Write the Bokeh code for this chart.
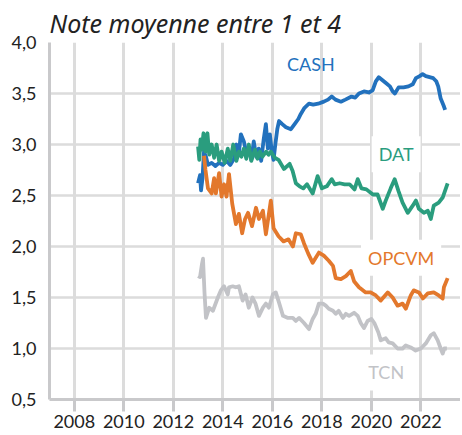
from bokeh.plotting import figure
from bokeh.models import Range1d, FixedTicker, CustomJSTickFormatter, Label, Title
from bokeh.embed import file_html
from bokeh.resources import INLINE

# ---- data (decimal year, average score) ----
cash_t = [2013.00, 2013.08, 2013.12, 2013.18, 2013.24, 2013.32, 2013.40, 2013.55, 2013.70, 2013.85,
          2014.00, 2014.15, 2014.30, 2014.45, 2014.55, 2014.65, 2014.73, 2014.85, 2014.95, 2015.05,
          2015.15, 2015.25, 2015.35, 2015.45, 2015.55, 2015.65, 2015.74, 2015.82, 2015.90, 2015.98,
          2016.05, 2016.12, 2016.20, 2016.27, 2016.40, 2016.55, 2016.75, 2016.90, 2017.05, 2017.15,
          2017.30, 2017.48, 2017.65, 2017.85, 2018.08, 2018.25, 2018.40, 2018.55, 2018.77, 2018.95,
          2019.20, 2019.35, 2019.50, 2019.70, 2019.90, 2020.05, 2020.18, 2020.30, 2020.45, 2020.60,
          2020.75, 2020.86, 2020.95, 2021.10, 2021.30, 2021.50, 2021.67, 2021.80, 2021.95, 2022.07,
          2022.20, 2022.35, 2022.50, 2022.62, 2022.70, 2022.80, 2022.92, 2022.98]
cash_v = [2.62, 2.70, 2.55, 2.67, 2.93, 2.88, 2.80, 2.82, 2.79, 2.82,
          2.80, 2.84, 2.80, 2.86, 3.00, 2.92, 3.10, 3.03, 2.92, 2.96,
          2.85, 3.03, 2.88, 2.96, 2.84, 3.05, 3.20, 2.96, 3.10, 2.93,
          2.85, 3.00, 3.15, 3.23, 3.20, 3.17, 3.15, 3.20, 3.25, 3.30,
          3.36, 3.40, 3.39, 3.40, 3.42, 3.44, 3.47, 3.44, 3.42, 3.44,
          3.47, 3.46, 3.50, 3.52, 3.51, 3.53, 3.62, 3.66, 3.63, 3.60,
          3.57, 3.52, 3.50, 3.56, 3.56, 3.57, 3.59, 3.65, 3.67, 3.69,
          3.67, 3.66, 3.65, 3.62, 3.57, 3.45, 3.38, 3.34]

dat_t = [2013.00, 2013.05, 2013.10, 2013.15, 2013.22, 2013.30, 2013.38, 2013.45, 2013.55, 2013.65,
         2013.75, 2013.85, 2013.95, 2014.08, 2014.20, 2014.30, 2014.42, 2014.55, 2014.65, 2014.75,
         2014.85, 2014.95, 2015.05, 2015.15, 2015.30, 2015.40, 2015.50, 2015.60, 2015.75, 2015.85,
         2015.94, 2016.10, 2016.25, 2016.47, 2016.70, 2016.82, 2016.95, 2017.10, 2017.25, 2017.40,
         2017.63, 2017.83, 2018.00, 2018.20, 2018.40, 2018.52, 2018.72, 2018.92, 2019.12, 2019.32,
         2019.45, 2019.60, 2019.80, 2020.06, 2020.25, 2020.46, 2020.58, 2020.78, 2020.94, 2021.10,
         2021.26, 2021.47, 2021.67, 2021.80, 2021.92, 2022.12, 2022.28, 2022.40, 2022.52, 2022.72,
         2022.88, 2023.08]
dat_v = [2.98, 2.85, 3.05, 2.95, 3.11, 2.93, 3.11, 2.90, 3.00, 2.87,
         3.00, 2.84, 2.93, 2.82, 2.96, 2.84, 3.00, 2.84, 2.93, 2.88,
         2.96, 2.86, 3.00, 2.84, 2.95, 2.86, 2.93, 2.88, 2.93, 2.90,
         2.93, 2.87, 2.85, 2.76, 2.81, 2.74, 2.62, 2.59, 2.57, 2.61,
         2.52, 2.69, 2.57, 2.59, 2.66, 2.61, 2.62, 2.61, 2.61, 2.56,
         2.66, 2.57, 2.56, 2.51, 2.51, 2.37, 2.45, 2.57, 2.66, 2.54,
         2.43, 2.33, 2.40, 2.45, 2.37, 2.33, 2.35, 2.27, 2.40, 2.43,
         2.48, 2.62]

opcvm_t = [2013.24, 2013.30, 2013.40, 2013.55, 2013.65, 2013.72, 2013.85, 2013.95, 2014.05, 2014.15,
           2014.25, 2014.38, 2014.53, 2014.65, 2014.78, 2014.90, 2015.02, 2015.18, 2015.34, 2015.46,
           2015.62, 2015.74, 2015.94, 2016.05, 2016.25, 2016.45, 2016.65, 2016.83, 2016.95, 2017.15,
           2017.28, 2017.45, 2017.63, 2017.88, 2018.08, 2018.28, 2018.45, 2018.56, 2018.77, 2018.97,
           2019.17, 2019.30, 2019.50, 2019.77, 2019.97, 2020.18, 2020.38, 2020.66, 2020.86, 2021.06,
           2021.26, 2021.39, 2021.59, 2021.71, 2021.92, 2022.08, 2022.28, 2022.52, 2022.72, 2022.88,
           2022.93, 2023.08]
opcvm_v = [2.89, 2.75, 2.57, 2.52, 2.67, 2.52, 2.72, 2.49, 2.61, 2.49,
           2.71, 2.42, 2.22, 2.32, 2.13, 2.27, 2.33, 2.20, 2.38, 2.27,
           2.35, 2.12, 2.45, 2.18, 2.10, 2.05, 2.07, 2.00, 2.13, 2.12,
           2.03, 1.93, 1.84, 1.94, 1.91, 1.86, 1.81, 1.69, 1.68, 1.71,
           1.76, 1.66, 1.60, 1.55, 1.55, 1.52, 1.47, 1.55, 1.50, 1.42,
           1.44, 1.39, 1.52, 1.57, 1.55, 1.49, 1.54, 1.55, 1.52, 1.49,
           1.60, 1.69]

tcn_t = [2013.00, 2013.08, 2013.16, 2013.20, 2013.26, 2013.32, 2013.45, 2013.60, 2013.80, 2013.92,
         2014.05, 2014.20, 2014.25, 2014.40, 2014.52, 2014.65, 2014.80, 2014.92, 2015.05, 2015.20,
         2015.32, 2015.46, 2015.62, 2015.74, 2015.86, 2016.02, 2016.14, 2016.27, 2016.43, 2016.63,
         2016.83, 2016.95, 2017.08, 2017.28, 2017.48, 2017.63, 2017.75, 2017.88, 2018.04, 2018.16,
         2018.28, 2018.45, 2018.56, 2018.68, 2018.85, 2018.97, 2019.10, 2019.30, 2019.45, 2019.57,
         2019.70, 2019.85, 2020.00, 2020.12, 2020.28, 2020.38, 2020.58, 2020.70, 2020.86, 2021.06,
         2021.26, 2021.39, 2021.59, 2021.79, 2022.00, 2022.20, 2022.40, 2022.52, 2022.68, 2022.80,
         2022.88, 2022.95, 2023.05]
tcn_v = [1.71, 1.70, 1.83, 1.88, 1.55, 1.30, 1.40, 1.37, 1.50, 1.57,
         1.61, 1.53, 1.60, 1.61, 1.60, 1.61, 1.47, 1.53, 1.40, 1.50,
         1.44, 1.32, 1.40, 1.44, 1.40, 1.53, 1.55, 1.45, 1.32, 1.30,
         1.30, 1.27, 1.30, 1.25, 1.19, 1.29, 1.34, 1.44, 1.44, 1.42,
         1.39, 1.37, 1.34, 1.37, 1.30, 1.34, 1.32, 1.35, 1.32, 1.25,
         1.20, 1.27, 1.29, 1.25, 1.16, 1.08, 1.10, 1.06, 1.05, 1.00,
         1.00, 1.03, 1.01, 0.98, 1.00, 1.05, 1.13, 1.15, 1.08, 1.00,
         0.95, 1.00, 1.00]

x_ticks = [2008, 2010, 2012, 2014, 2016, 2018, 2020, 2022]
y_ticks = [0.5, 1.0, 1.5, 2.0, 2.5, 3.0, 3.5, 4.0]

series_names = ["TCN", "CASH", "DAT", "OPCVM"]
series_colors = {"CASH": "#2271bd", "DAT": "#2a9d7e", "OPCVM": "#e3782c", "TCN": "#c2c3c7"}
label_pos = {"CASH": (2017.56, 3.785), "DAT": (2021.0, 2.905), "OPCVM": (2021.2, 1.89), "TCN": (2020.6, 0.765)}

FONT = "Lato"
GRID = "#dcdcdc"
AXIS = "#c9c9cb"

p = figure(width=460, height=433, output_backend="svg", toolbar_location=None,
           x_range=Range1d(2007.0, 2023.6), y_range=Range1d(0.5, 4.0),
           min_border_left=49, min_border_right=0, min_border_top=41, min_border_bottom=34)
p.outline_line_color = None
p.background_fill_color = "white"
p.border_fill_color = "white"

t = Title(text="Note moyenne entre 1 et 4", align="left", text_font="Noto Sans",
          text_font_style="italic", text_font_size="25px", text_color="#222222",
          offset=0, standoff=6)
p.add_layout(t, "above")

p.xgrid.ticker = FixedTicker(ticks=x_ticks)
p.ygrid.ticker = FixedTicker(ticks=y_ticks)
p.xgrid.grid_line_color = GRID
p.ygrid.grid_line_color = GRID
p.xgrid.grid_line_width = 3
p.ygrid.grid_line_width = 2.5

p.xaxis.ticker = FixedTicker(ticks=x_ticks)
p.yaxis.ticker = FixedTicker(ticks=y_ticks)
p.yaxis.formatter = CustomJSTickFormatter(code="return tick.toFixed(1).replace('.', ',');")
for ax in (p.xaxis[0], p.yaxis[0]):
    ax.axis_line_color = AXIS
    ax.axis_line_width = 3
    ax.major_label_text_font = FONT
    ax.major_label_text_font_size = "18px"
    ax.major_label_text_color = "#222222"
    ax.minor_tick_line_color = None
p.xaxis.major_tick_line_color = AXIS
p.xaxis.major_tick_line_width = 3
p.xaxis.major_tick_out = 12
p.xaxis.major_tick_in = 0
p.xaxis.major_label_standoff = 3
p.yaxis.major_tick_line_color = None
p.yaxis.major_label_standoff = 7

data = {"CASH": (cash_t, cash_v), "DAT": (dat_t, dat_v), "OPCVM": (opcvm_t, opcvm_v), "TCN": (tcn_t, tcn_v)}
for name in series_names:
    xs, ys = data[name]
    p.line(xs, ys, line_color=series_colors[name], line_width=3.8, line_join="round")

for name in ["CASH", "DAT", "OPCVM", "TCN"]:
    lx, ly = label_pos[name]
    p.add_layout(Label(x=lx, y=ly, text=name, text_align="center", text_baseline="middle",
                       text_font=FONT, text_font_size="18px", text_color=series_colors[name],
                       background_fill_color="white" if name != "CASH" else None,
                       padding=7))

open("out.html", "w").write(file_html(p, INLINE))
